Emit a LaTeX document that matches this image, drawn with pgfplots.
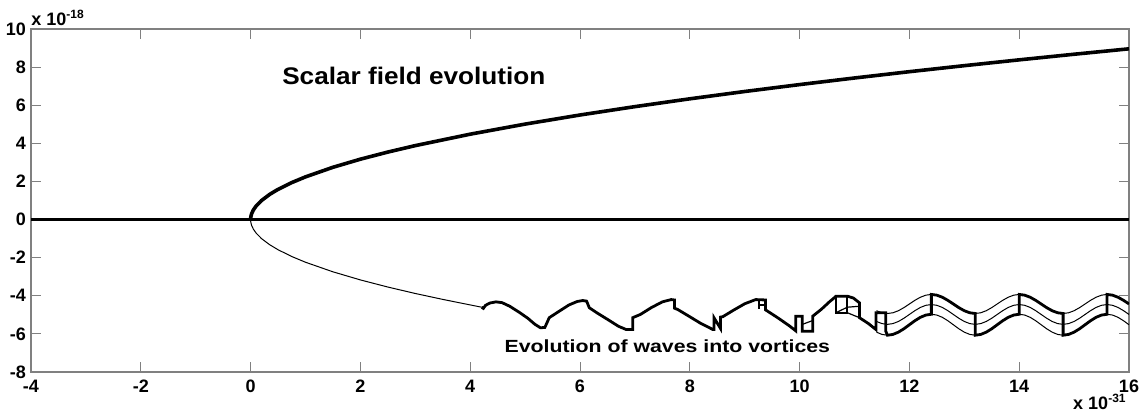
\documentclass[border=0pt]{standalone}
\usepackage{pgfplots}
\pgfplotsset{compat=1.18}
\usepackage{pgfplotstable}
\usepackage{graphicx}
\usepackage{fontspec}
\setmainfont{Liberation Sans}

\pgfplotstableread{
x t m b
11.4 -4.784 -5.348 -5.909
11.5 -4.892 -5.460 -6.028
11.6 -4.930 -5.500 -6.070
11.7 -4.892 -5.460 -6.028
11.8 -4.784 -5.348 -5.909
11.9 -4.622 -5.179 -5.731
12.0 -4.430 -4.980 -5.520
12.1 -4.239 -4.781 -5.309
12.2 -4.077 -4.612 -5.131
12.3 -3.968 -4.500 -5.012
12.4 -3.930 -4.460 -4.970
12.5 -3.968 -4.500 -5.012
12.6 -4.077 -4.612 -5.131
12.7 -4.239 -4.781 -5.309
12.8 -4.430 -4.980 -5.520
12.9 -4.622 -5.179 -5.731
13.0 -4.784 -5.348 -5.909
13.1 -4.892 -5.460 -6.028
13.2 -4.930 -5.500 -6.070
13.3 -4.892 -5.460 -6.028
13.4 -4.784 -5.348 -5.909
13.5 -4.622 -5.179 -5.731
13.6 -4.430 -4.980 -5.520
13.7 -4.239 -4.781 -5.309
13.8 -4.077 -4.612 -5.131
13.9 -3.968 -4.500 -5.012
14.0 -3.930 -4.460 -4.970
14.1 -3.968 -4.500 -5.012
14.2 -4.077 -4.612 -5.131
14.3 -4.239 -4.781 -5.309
14.4 -4.430 -4.980 -5.520
14.5 -4.622 -5.179 -5.731
14.6 -4.784 -5.348 -5.909
14.7 -4.892 -5.460 -6.028
14.8 -4.930 -5.500 -6.070
14.9 -4.892 -5.460 -6.028
15.0 -4.784 -5.348 -5.909
15.1 -4.622 -5.179 -5.731
15.2 -4.430 -4.980 -5.520
15.3 -4.239 -4.781 -5.309
15.4 -4.077 -4.612 -5.131
15.5 -3.968 -4.500 -5.012
15.6 -3.930 -4.460 -4.970
15.7 -3.968 -4.500 -5.012
15.8 -4.077 -4.612 -5.131
15.9 -4.239 -4.781 -5.309
16.0 -4.430 -4.980 -5.520
}\triple

\begin{document}
\begin{tikzpicture}
\begin{axis}[
  name=ax,
  scale only axis,
  width=549pt, height=171.5pt,
  xmin=-4, xmax=16, ymin=-8, ymax=10,
  xtick={-4,-2,...,16}, ytick={-8,-6,...,10},
  /pgf/number format/assume math mode=true,
  ticklabel style={font=\bfseries\fontsize{9}{10}\selectfont},
  xticklabel style={yshift=-0.5pt},
  yticklabel style={xshift=1pt},
  tick align=inside,
  major tick length=5pt,
  tick style={gray, line width=0.5pt},
  axis line style={gray, line width=0.6pt},
  clip=true,
]
% zero line
\addplot[black, line width=1.5pt] coordinates {(-4,0) (16,0)};
% upper branch
\addplot[black, line width=1.8pt] coordinates {
(0,0) (0.001,0.071) (0.005,0.158) (0.02,0.317) (0.05,0.501) (0.1,0.708) (0.2,1.002)
(0.35,1.325) (0.5,1.584) (0.75,1.940) (1,2.24) (1.5,2.743) (2,3.168) (2.5,3.542)
(3,3.880) (4,4.48) (5,5.009) (6,5.487) (7,5.926) (8,6.336) (9,6.72) (10,7.083)
(11,7.429) (12,7.760) (13,8.076) (14,8.381) (15,8.675) (16,8.96)};
% lower thin branch
\addplot[black, line width=0.5pt] coordinates {
(0,0) (0.001,-0.071) (0.005,-0.158) (0.02,-0.317) (0.05,-0.501) (0.1,-0.708) (0.2,-1.002)
(0.35,-1.325) (0.5,-1.584) (0.75,-1.94) (1,-2.24) (1.5,-2.743) (2,-3.168) (2.5,-3.542)
(3,-3.88) (3.5,-4.19) (4,-4.48) (4.21,-4.6)};
% single wave, thick
\addplot[black, line width=1.4pt] coordinates {
(4.21,-4.6) (4.24,-4.66) (4.28,-4.50) (4.36,-4.38) (4.47,-4.32) (4.58,-4.36) (4.72,-4.55)
(4.9,-4.88) (5.05,-5.18) (5.18,-5.50) (5.28,-5.68) (5.36,-5.66) (5.44,-5.15) (5.6,-4.85)
(5.8,-4.48) (5.95,-4.30) (6.05,-4.25) (6.12,-4.28) (6.17,-4.63) (6.3,-4.88) (6.53,-5.29)
(6.7,-5.6) (6.84,-5.77) (6.96,-5.77) (6.96,-5.15) (7.1,-4.98) (7.3,-4.62) (7.5,-4.32)
(7.66,-4.2) (7.72,-4.22) (7.72,-4.65) (7.78,-4.72) (8.0,-5.1) (8.2,-5.45) (8.42,-5.77)
(8.44,-5.77) (8.44,-5.15) (8.56,-5.72) (8.56,-5.12) (8.6,-5.1) (8.8,-4.75) (9.0,-4.42)
(9.2,-4.2) (9.38,-4.22) (9.38,-4.74) (9.6,-5.15) (9.8,-5.55) (9.9,-5.77) (9.93,-5.84)
(9.93,-5.07) (10.05,-5.07) (10.05,-5.86) (10.24,-5.86) (10.24,-5.07) (10.4,-4.7)
(10.55,-4.3) (10.63,-4.11) (10.66,-4.02) (10.87,-4.02) (10.98,-4.12) (11.09,-4.37)
(11.09,-5.15) (11.25,-5.45) (11.39,-5.77) (11.39,-4.89) (11.57,-4.89) (11.57,-5.86)
(11.6,-6.07) (11.7,-6.028) (11.8,-5.909) (11.9,-5.731) (12.0,-5.52) (12.1,-5.309)
(12.2,-5.131) (12.3,-5.012) (12.4,-4.97) (12.4,-3.93) (12.5,-3.968) (12.6,-4.077)
(12.7,-4.239) (12.8,-4.43) (12.9,-4.622) (13.0,-4.784) (13.1,-4.892) (13.2,-4.93)
(13.2,-6.07) (13.3,-6.028) (13.4,-5.909) (13.5,-5.731) (13.6,-5.52) (13.7,-5.309)
(13.8,-5.131) (13.9,-5.012) (14.0,-4.97) (14.0,-3.93) (14.1,-3.968) (14.2,-4.077)
(14.3,-4.239) (14.4,-4.43) (14.5,-4.622) (14.6,-4.784) (14.7,-4.892) (14.8,-4.93)
(14.8,-6.07) (14.9,-6.028) (15.0,-5.909) (15.1,-5.731) (15.2,-5.52) (15.3,-5.309)
(15.4,-5.131) (15.5,-5.012) (15.6,-4.97) (15.6,-3.93) (15.7,-3.968) (15.8,-4.077)
(15.9,-4.239) (16.0,-4.43)};
% small box details
\addplot[black, line width=1.1pt] coordinates {(9.26,-4.2) (9.26,-4.7)};
\addplot[black, line width=1.1pt] coordinates {(9.26,-4.48) (9.38,-4.48)};
\addplot[black, line width=1.1pt] coordinates {(10.66,-4.02) (10.66,-4.89) (10.87,-4.89) (10.87,-4.02)};
\addplot[black, line width=0.6pt] coordinates {(10.05,-5.5) (10.24,-5.3)};
\addplot[black, line width=0.6pt] coordinates {(10.66,-4.89) (10.87,-4.6) (11.09,-4.55)};
\addplot[black, line width=0.6pt] coordinates {(10.87,-4.89) (11.09,-5.15)};
% three thin waves
\addplot[black, line width=0.5pt] table[x=x, y=t] {\triple};
\addplot[black, line width=0.5pt] table[x=x, y=m] {\triple};
\addplot[black, line width=0.5pt] table[x=x, y=b] {\triple};
% texts
\node[anchor=base west, inner sep=0pt] at (axis cs:0.57,7.08)
  {\scalebox{1.09}[1]{\bfseries\fontsize{12}{14}\selectfont Scalar field evolution}};
\node[anchor=base west, inner sep=0pt] at (axis cs:4.62,-6.99)
  {\scalebox{1.21}[1]{\bfseries\fontsize{8.8}{10}\selectfont Evolution of waves into vortices}};
\end{axis}
\node[anchor=base west, inner sep=0pt] at ([yshift=1.5pt]ax.north west)
  {\bfseries\fontsize{9}{10}\selectfont x 10\textsuperscript{-18}};
\node[anchor=base east, inner sep=0pt] at ([xshift=-1pt,yshift=-19pt]ax.south east)
  {\bfseries\fontsize{9}{10}\selectfont x 10\textsuperscript{-31}};
\pgfresetboundingbox
\path[use as bounding box] ([shift={(-15.5pt,-22.5pt)}]ax.south west) rectangle ([shift={(6.5pt,14.5pt)}]ax.north east);
\end{tikzpicture}
\end{document}
